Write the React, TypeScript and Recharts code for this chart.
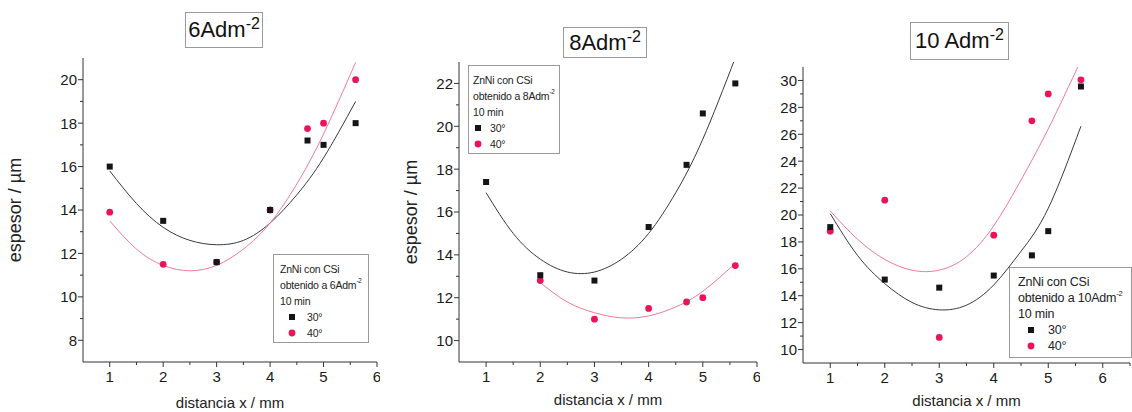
import React from "react";
import { ComposedChart, Scatter, Line, XAxis, YAxis, Legend, Label } from "recharts";

const FONT = "'Liberation Sans', Arial, sans-serif";
const BLACK = "#151515";
const RED = "#ec1459";

// measuring positions (mm)
const distances = [1, 2, 3, 4, 4.7, 5, 5.6];
const fitDistances = [1, 1.5, 2, 2.5, 3, 3.5, 4, 4.5, 5, 5.6];

// 6 A/dm2
const thick6At30 = [16.0, 13.5, 11.6, 14.0, 17.2, 17.0, 18.0];
const thick6At40 = [13.9, 11.5, 11.6, 14.0, 17.75, 18.0, 20.0];
const fit6At30 = [15.8, 14.3, 13.2, 12.6, 12.4, 12.6, 13.4, 14.7, 16.4, 19.0];
const fit6At40 = [13.5, 12.2, 11.45, 11.2, 11.45, 12.2, 13.4, 15.2, 17.5, 20.8];

// 8 A/dm2
const thick8At30 = [17.4, 13.05, 12.8, 15.3, 18.2, 20.6, 22.0];
const thick8At40 = [null, 12.8, 11.0, 11.5, 11.8, 12.0, 13.5];
const fit8At30 = [16.9, 15.0, 13.8, 13.2, 13.2, 13.8, 15.0, 16.9, 19.4, 23.2];
const fit8At40Distances = [2, 2.5, 3, 3.5, 4, 4.5, 5, 5.6];
const fit8At40 = [12.7, 11.8, 11.3, 11.06, 11.15, 11.57, 12.3, 13.6];

// 10 A/dm2
const thick10At30 = [19.1, 15.2, 14.6, 15.5, 17.0, 18.8, 29.55];
const thick10At40 = [18.8, 21.1, 10.9, 18.5, 27.0, 29.0, 30.05];
const fit10At30 = [20.1, 17.0, 14.9, 13.5, 12.95, 13.3, 14.8, 17.3, 20.5, 26.6];
const fit10At40 = [20.3, 18.2, 16.7, 15.9, 15.9, 16.9, 19.2, 22.6, 26.4, 31.5];

// ticks
const xTicks6 = [1, 1.5, 2, 2.5, 3, 3.5, 4, 4.5, 5, 5.5, 6];
const xTicks65 = [1, 1.5, 2, 2.5, 3, 3.5, 4, 4.5, 5, 5.5, 6, 6.5];
const yTicks6 = [8, 9, 10, 11, 12, 13, 14, 15, 16, 17, 18, 19, 20];
const yTicks8 = [10, 11, 12, 13, 14, 15, 16, 17, 18, 19, 20, 21, 22];
const yTicks10 = [10, 11, 12, 13, 14, 15, 16, 17, 18, 19, 20, 21, 22, 23, 24, 25, 26, 27, 28, 29, 30];

const toPoints = (xs: number[], ys: (number | null)[]) =>
  xs.map((x, i) => ({ x, y: ys[i] })).filter((p) => p.y != null);

const YTick = (props: any) => {
  const { x, y, payload } = props;
  const v = payload.value;
  const major = v % 2 === 0;
  return (
    <g>
      <line x1={x - (major ? 5 : 3)} x2={x} y1={y} y2={y} stroke="#333" />
      {major && (
        <text x={x - 6} y={y} dy="0.36em" textAnchor="end" fontSize={15} fill="#1a1a1a" fontFamily={FONT}>
          {v}
        </text>
      )}
    </g>
  );
};

const XTick = (props: any) => {
  const { x, y, payload } = props;
  const v = payload.value;
  const major = Number.isInteger(v);
  return (
    <g>
      <line x1={x} x2={x} y1={y} y2={y + (major ? 5 : 3)} stroke="#333" />
      {major && (
        <text x={x} y={y + 20} textAnchor="middle" fontSize={15} fill="#1a1a1a" fontFamily={FONT}>
          {v}
        </text>
      )}
    </g>
  );
};

const Square = (p: any) => <rect x={p.cx - 3} y={p.cy - 3} width={6} height={6} fill={BLACK} />;
const Dot = (p: any) => <circle cx={p.cx} cy={p.cy} r={3.4} fill={RED} />;

function LegendBox({ amps, size, w, h, padL, symX, textX }: any) {
  const row = (sym: React.ReactNode, text: string) => (
    <div style={{ position: "relative", height: 16 }}>
      <svg width={12} height={12} style={{ position: "absolute", left: symX - 6, top: 2 }}>
        {sym}
      </svg>
      <span style={{ position: "absolute", left: textX }}>{text}</span>
    </div>
  );
  return (
    <div
      style={{
        width: w,
        height: h,
        boxSizing: "border-box",
        border: "1px solid #9a9a9a",
        background: "#fff",
        fontFamily: FONT,
        fontSize: size,
        lineHeight: "16px",
        color: "#222",
        padding: `6px 0 0 ${padL}px`,
        whiteSpace: "nowrap",
        letterSpacing: -0.2,
      }}
    >
      <div>ZnNi con CSi</div>
      <div>
        obtenido a {amps}Adm<sup style={{ fontSize: size * 0.6, verticalAlign: "top", lineHeight: "8px" }}>-2</sup>
      </div>
      <div>10 min</div>
      {row(<rect x={3} y={3} width={6} height={6} fill={BLACK} />, "30°")}
      {row(<circle cx={6} cy={6} r={3.4} fill={RED} />, "40°")}
    </div>
  );
}

function Panel(props: any) {
  const {
    left, width, top, bottom, right, axisWidth, xHeight, xDomain, xTicks, yDomain, yTicks,
    black, red, fitBlack, fitRed, yLabelOffset, legend, xLabelOffset,
  } = props;
  return (
    <div style={{ position: "absolute", left, top: 0 }}>
      <ComposedChart width={width} height={412} margin={{ top, right, bottom, left: 0 }}>
        <XAxis
          type="number"
          dataKey="x"
          domain={xDomain}
          ticks={xTicks}
          interval={0}
          allowDataOverflow
          height={xHeight}
          tickSize={0}
          tickMargin={0}
          tick={<XTick />}
          stroke="#333"
        >
          <Label
            value="distancia x / mm"
            position="insideBottom"
            offset={xLabelOffset}
            style={{ fontFamily: FONT, fontSize: 15, fill: "#222" }}
          />
        </XAxis>
        <XAxis xAxisId="top" orientation="top" type="number" domain={xDomain} height={0} tick={false} tickLine={false} stroke="#cfcfcf" />
        <YAxis
          type="number"
          dataKey="y"
          domain={yDomain}
          ticks={yTicks}
          interval={0}
          allowDataOverflow
          width={axisWidth}
          tickSize={0}
          tickMargin={0}
          tick={<YTick />}
          stroke="#333"
        >
          {yLabelOffset != null && (
            <Label
              value="espesor / µm"
              angle={-90}
              position="insideLeft"
              offset={yLabelOffset}
              style={{ fontFamily: FONT, fontSize: 18, fill: "#222", textAnchor: "middle" }}
            />
          )}
        </YAxis>
        <YAxis yAxisId="right" orientation="right" type="number" domain={yDomain} width={0} tick={false} tickLine={false} stroke="#cfcfcf" />
        <Line data={fitBlack} dataKey="y" type="natural" stroke="#3a3a3a" strokeWidth={1} dot={false} isAnimationActive={false} />
        <Line data={fitRed} dataKey="y" type="natural" stroke="#f27a98" strokeWidth={1} dot={false} isAnimationActive={false} />
        <Scatter data={red} dataKey="y" shape={<Dot />} isAnimationActive={false} />
        <Scatter data={black} dataKey="y" shape={<Square />} isAnimationActive={false} />
        <Legend
          layout="horizontal"
          verticalAlign="middle"
          align="center"
          wrapperStyle={{ left: legend.left, top: legend.top, width: legend.w, height: legend.h }}
          content={() => <LegendBox {...legend} />}
        />
      </ComposedChart>
    </div>
  );
}

const titleStyle = (l: number, t: number, w: number, h: number): React.CSSProperties => ({
  position: "absolute",
  left: l,
  top: t,
  width: w,
  height: h,
  boxSizing: "border-box",
  border: "1px solid #9a9a9a",
  display: "flex",
  alignItems: "center",
  justifyContent: "center",
  fontFamily: FONT,
  fontSize: 22,
  color: "#111",
  background: "#fff",
});

const Sup = () => <sup style={{ fontSize: 16, verticalAlign: "top", position: "relative", top: -6 }}>-2</sup>;

export default function App() {
  return (
    <div style={{ position: "absolute", left: 0, top: 0, width: 1132, height: 412, background: "#fff", overflow: "hidden" }}>
      <Panel
        left={0}
        width={380}
        top={58}
        bottom={4}
        right={3}
        axisWidth={83}
        xHeight={46}
        xDomain={[0.5, 6]}
        xTicks={xTicks6}
        yDomain={[7, 21]}
        yTicks={yTicks6}
        black={toPoints(distances, thick6At30)}
        red={toPoints(distances, thick6At40)}
        fitBlack={toPoints(fitDistances, fit6At30)}
        fitRed={toPoints(fitDistances, fit6At40)}
        yLabelOffset={15}
        xLabelOffset={0}
        legend={{ left: 273, top: 254, w: 96, h: 89, amps: "6", size: 10.5, padL: 6, symX: 12, textX: 27 }}
      />
      <Panel
        left={380}
        width={380}
        top={62}
        bottom={7}
        right={3}
        axisWidth={79}
        xHeight={43}
        xDomain={[0.5, 6]}
        xTicks={xTicks6}
        yDomain={[9, 23]}
        yTicks={yTicks8}
        black={toPoints(distances, thick8At30)}
        red={toPoints(distances, thick8At40)}
        fitBlack={toPoints(fitDistances, fit8At30)}
        fitRed={toPoints(fit8At40Distances, fit8At40)}
        yLabelOffset={31}
        xLabelOffset={0}
        legend={{ left: 88, top: 65, w: 92, h: 89, amps: "8", size: 10.5, padL: 4, symX: 5, textX: 17 }}
      />
      <Panel
        left={760}
        width={372}
        top={67}
        bottom={6}
        right={2}
        axisWidth={43}
        xHeight={43}
        xDomain={[0.5, 6.5]}
        xTicks={xTicks65}
        yDomain={[9, 31]}
        yTicks={yTicks10}
        black={toPoints(distances, thick10At30)}
        red={toPoints(distances, thick10At40)}
        fitBlack={toPoints(fitDistances, fit10At30)}
        fitRed={toPoints(fitDistances, fit10At40)}
        xLabelOffset={0}
        legend={{ left: 249, top: 267, w: 123, h: 91, amps: "10", size: 12.5, padL: 8, symX: 13, textX: 30 }}
      />
      <div style={titleStyle(185, 12, 78, 36)}>
        6Adm<Sup />
      </div>
      <div style={titleStyle(563, 27, 84, 31)}>
        8Adm<Sup />
      </div>
      <div style={titleStyle(910, 22, 99, 38)}>
        10 Adm<Sup />
      </div>
    </div>
  );
}
